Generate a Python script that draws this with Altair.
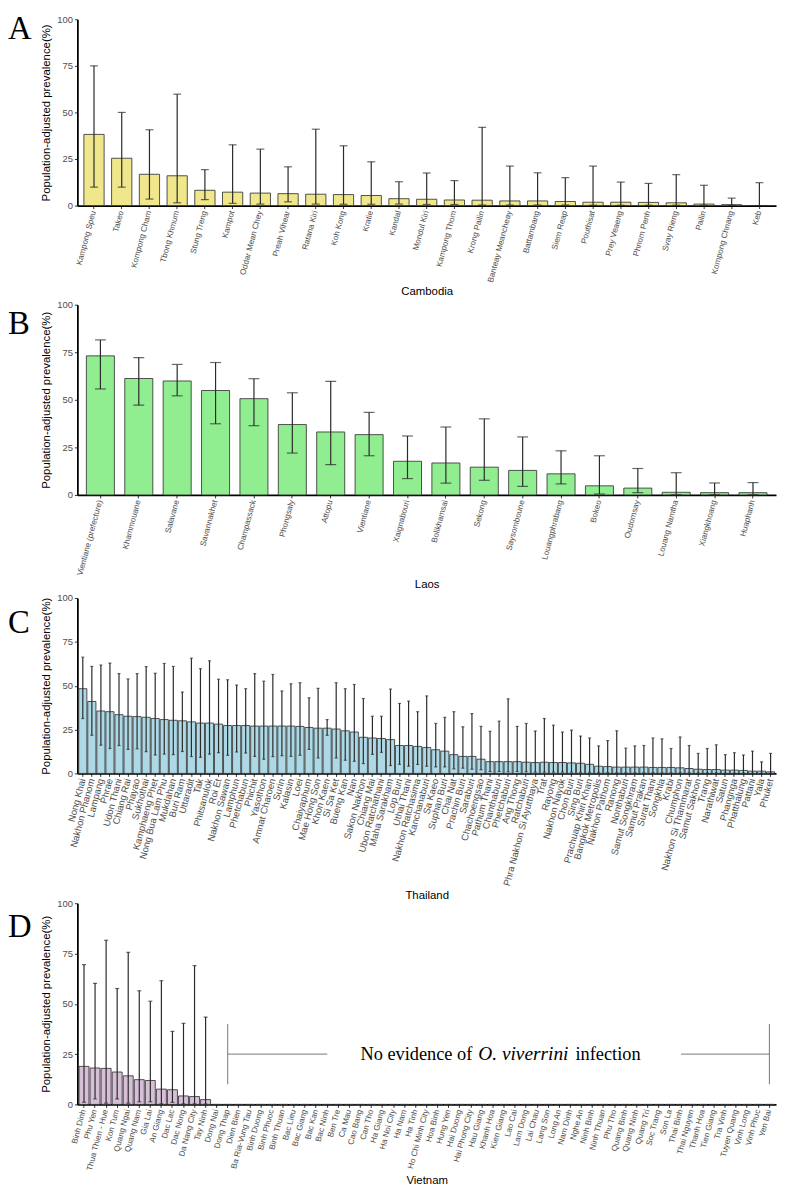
import altair as alt
import pandas as pd
import numpy as np

# ---------------- Cambodia ----------------
kh_names = ["Kampong Speu", "Takeo", "Kompong Cham", "Tbong Khmum", "Stung Treng", "Kampot",
            "Oddar Mean Chey", "Preah Vihear", "Ratana Kiri", "Koh Kong", "Kratie", "Kandal",
            "Mondul Kiri", "Kampong Thom", "Krong Pailin", "Banteay Meancheay", "Battambang",
            "Siem Reap", "Pouthisat", "Prey Veaeng", "Phnom Penh", "Svay Rieng", "Pailin",
            "Kompong Chnang", "Keb"]
kh_mean = [38.2, 25.4, 16.8, 16.0, 8.2, 7.2, 6.7, 6.4, 6.1, 5.9, 5.4, 3.7,
           3.4, 3.0, 2.9, 2.5, 2.5, 2.2, 1.8, 1.8, 1.7, 1.5, 0.8, 0.5, 0.0]
kh_low = [9.9, 9.9, 3.5, 1.5, 3.2, 1.2, 0.8, 2.0, 0.8, 0.7, 0.7, 0.8,
          0.6, 0.6, 0.3, 0.3, 0.3, 0.3, 0.2, 0.2, 0.2, 0.2, 0.2, 0.1, 0.0]
kh_high = [75.0, 50.0, 40.7, 59.8, 19.3, 32.6, 30.3, 20.8, 41.0, 32.1, 23.5, 12.8,
           17.5, 13.4, 42.0, 21.2, 17.6, 15.0, 21.2, 12.6, 11.9, 16.6, 10.9, 4.0, 12.3]

# ---------------- Laos ----------------
la_names = ["Vientiane (prefecture)", "Khammouane", "Salavane", "Savannakhet", "Champassack",
            "Phongsaly", "Attopu", "Vientiane", "Xaignabouri", "Bolikhamsai", "Sekong",
            "Saysomboune", "Louangphrabang", "Bokeo", "Oudomsay", "Louang Namtha",
            "Xiangkhoang", "Huaphanh"]
la_mean = [73.1, 61.2, 59.9, 54.9, 50.6, 37.0, 33.1, 31.7, 17.7, 16.8, 14.6,
           12.9, 11.1, 4.8, 3.6, 1.4, 1.2, 1.2]
la_low = [55.7, 47.2, 52.1, 37.4, 36.4, 22.0, 15.9, 20.6, 8.6, 6.2, 7.7,
          4.5, 5.8, 0.5, 1.2, 0.1, 0.1, 0.1]
la_high = [81.5, 72.2, 68.6, 69.6, 61.1, 53.7, 59.7, 43.4, 31.0, 35.7, 40.0,
           30.5, 23.2, 20.6, 13.9, 11.7, 6.3, 6.5]

# ---------------- Thailand ----------------
th_names = ["Nong Khai", "Nakhon Phanom", "Lampang", "Phrae", "Udon Thani", "Chiang Rai",
            "Phayao", "Sukhothai", "Kamphaeng Phet", "Nong Bua Lam Phu", "Mukdahan",
            "Buri Ram", "Uttaradit", "Tak", "Phitsanulok", "Roi Et", "Nakhon Sawan",
            "Lamphun", "Phetchabun", "Phichit", "Yasothon", "Amnat Charoen", "Surin",
            "Kalasin", "Loei", "Chaiyaphum", "Mae Hong Son", "Khon Kaen", "Si Sa Ket",
            "Bueng Kan", "Nan", "Sakon Nakhon", "Chiang Mai", "Ubon Ratchathani",
            "Maha Sarakham", "Lop Buri", "Uthai Thani", "Nakhon Ratchasima", "Kanchanaburi",
            "Sa Kaeo", "Suphan Buri", "Chai Nat", "Prachin Buri", "Saraburi", "Chachoengsao",
            "Pathum Thani", "Chanthaburi", "Phetchaburi", "Ang Thong", "Ratchaburi",
            "Phra Nakhon Si Ayutthaya", "Trat", "Rayong", "Nakhon Nayok", "Chon Buri",
            "Sing Buri", "Prachuap Khiri Khan", "Bangkok Metropolis", "Nakhon Pathom",
            "Ranong", "Nonthaburi", "Samut Songkhram", "Samut Prakan", "Surat Thani",
            "Songkhla", "Krabi", "Chumphon", "Nakhon Si Thammarat", "Samut Sakhon", "Trang",
            "Narathiwat", "Satun", "Phangnga", "Phatthalung", "Pattani", "Yala", "Phuket"]
th_mean = [48.3, 41.0, 35.6, 35.2, 33.5, 32.6, 32.4, 32.0, 31.3, 30.7, 30.3,
           30.0, 29.4, 28.7, 28.7, 28.1, 27.3, 27.3, 27.3, 27.0, 27.0, 27.0, 27.0,
           27.0, 26.8, 26.2, 25.8, 25.8, 25.3, 24.3, 23.6, 20.6, 20.2, 19.9,
           19.3, 15.9, 15.9, 15.4, 14.8, 13.5, 12.7, 10.7, 9.7, 9.7, 8.1,
           6.7, 6.7, 6.7, 6.7, 6.4, 6.2, 6.4, 6.2, 6.2, 6.0,
           5.8, 5.2, 4.1, 3.9, 3.6, 3.6, 3.6, 3.6, 3.4,
           3.4, 3.4, 3.2, 2.8, 2.4, 2.2, 2.2, 1.9, 1.9, 1.7, 1.3, 1.3, 0.9]
th_low = [31.3, 21.7, 16.1, 14.2, 15.9, 13.7, 14.0, 12.4, 10.5, 11.0, 10.7,
          12.5, 9.6, 9.2, 11.0, 11.8, 10.3, 12.2, 11.6, 9.7, 8.1, 9.6, 10.1,
          9.7, 10.3, 13.7, 8.8, 21.7, 8.8, 7.5, 6.9, 5.6, 10.9, 12.0,
          4.5, 5.2, 4.1, 5.1, 4.1, 3.7, 3.7, 2.6, 3.0, 2.4, 2.1,
          1.1, 1.1, 0.9, 1.1, 0.9, 0.7, 0.7, 0.7, 0.7, 0.7,
          0.6, 0.6, 0.5, 0.5, 0.4, 0.4, 0.4, 0.4, 0.4,
          0.4, 0.4, 0.4, 0.3, 0.3, 0.3, 0.3, 0.2, 0.2, 0.2, 0.1, 0.1, 0.1]
th_high = [66.3, 61.0, 61.8, 62.9, 56.9, 53.9, 56.9, 60.9, 57.1, 62.7, 61.0,
           46.4, 65.7, 59.7, 64.2, 53.7, 53.4, 50.4, 48.3, 56.9, 52.6, 56.4, 47.0,
           51.1, 51.7, 43.1, 48.5, 30.7, 51.7, 48.3, 50.7, 42.7, 32.6, 32.6,
           48.1, 39.9, 41.2, 35.2, 44.2, 28.5, 32.0, 35.2, 26.6, 34.1, 26.8,
           24.0, 29.8, 42.5, 26.8, 28.5, 24.2, 31.3, 27.5, 23.6, 24.7,
           21.3, 20.2, 15.7, 18.7, 24.3, 14.4, 15.7, 15.9, 20.2,
           19.7, 14.2, 20.8, 15.9, 11.4, 14.2, 16.3, 10.7, 11.8, 10.5, 12.7, 6.6, 11.4]

# ---------------- Vietnam ----------------
vn_names = ["Binh Dinh", "Phu Yen", "Thua Thien - Hue", "Kon Tum", "Quang Ngai", "Quang Nam",
            "Gia Lai", "An Giang", "Dac Lac", "Dac Nong", "Da Nang City", "Tay Ninh",
            "Dong Nai", "Dong Thap", "Dien Bien", "Ba Ria-Vung Tau", "Binh Duong",
            "Binh Phuoc", "Binh Thuan", "Bac Lieu", "Bac Giang", "Bac Kan", "Bac Ninh",
            "Ben Tre", "Ca Mau", "Cao Bang", "Can Tho", "Ha Giang", "Ha Noi City", "Ha Nam",
            "Ha Tinh", "Ho Chi Minh City", "Hoa Binh", "Hung Yen", "Hai Duong",
            "Hai Phong City", "Hau Giang", "Khanh Hoa", "Kien Giang", "Lao Cai", "Lam Dong",
            "Lai Chau", "Lang Son", "Long An", "Nam Dinh", "Nghe An", "Ninh Binh",
            "Ninh Thuan", "Phu Tho", "Quang Binh", "Quang Ninh", "Quang Tri", "Soc Trang",
            "Son La", "Thai Binh", "Thai Nguyen", "Thanh Hoa", "Tien Giang", "Tra Vinh",
            "Tuyen Quang", "Vinh Long", "Vinh Phuc", "Yen Bai"]
vn_mean_known = [18.9, 18.1, 17.9, 16.1, 14.2, 12.3, 11.9, 7.6, 7.3, 4.2, 3.9, 2.4]
vn_low_known = [1.1, 2.7, 0.6, 2.7, 0.6, 1.3, 1.3, 0.3, 1.0, 0.3, 0.3, 0.2]
vn_high_known = [69.5, 60.2, 81.6, 57.6, 75.6, 56.5, 51.3, 61.5, 36.3, 40.3, 69.0, 43.4]
n_none = len(vn_names) - len(vn_mean_known)
vn_mean = vn_mean_known + [0.0] * n_none
vn_low = vn_low_known + [np.nan] * n_none
vn_high = vn_high_known + [np.nan] * n_none

# annotation for Vietnam (bracket + text)
note_left = "No evidence of"
note_italic = "O. viverrini"
note_right = "infection"
bracket_v = [("Dong Thap", 10, 40), ("Yen Bai", 10, 40)]
bracket_h_seg = ["left", "left", "right", "right"]
bracket_h_prov = ["Dong Thap", "Bac Ninh", "Thai Binh", "Yen Bai"]
bracket_h_y = [25, 25, 25, 25]
note_anchor = ("Kien Giang", 25)

YTITLE = "Population-adjusted prevalence(%)"
LABEL_FONT = "Liberation Sans"


def panel(names, mean, low, high, color, country, letter, letter_y, height,
          pad_inner, pad_outer, cap, label_size, note=False):
    df = pd.DataFrame({"province": names, "mean": mean, "low": low, "high": high})
    xscale = alt.Scale(paddingInner=pad_inner, paddingOuter=pad_outer)
    xenc = alt.X("province:N", sort=names, scale=xscale,
                 axis=alt.Axis(title=country, labelAngle=-75, labelAlign="right",
                               labelBaseline="middle", labelOverlap=False,
                               labelFontSize=label_size, labelPadding=2, titlePadding=3))
    xplain = alt.X("province:N", sort=names)
    yenc = alt.Y("mean:Q", scale=alt.Scale(domain=[0, 100], nice=False),
                 axis=alt.Axis(values=[0, 25, 50, 75, 100], title=YTITLE))
    base = alt.Chart(df)
    bars = base.mark_bar(color=color, stroke="#333333", strokeWidth=1,
                         strokeOpacity=0.85).encode(x=xenc, y=yenc)
    valid = base.transform_filter("isValid(datum.high)")
    err = valid.mark_rule(color="#2a2a2a", strokeWidth=1.2).encode(
        x=xplain, y="low:Q", y2="high:Q")
    cap_hi = valid.mark_tick(size=cap, thickness=1.2, color="#2a2a2a").encode(
        x=xplain, y="high:Q")
    cap_lo = valid.mark_tick(size=cap, thickness=1.2, color="#2a2a2a").encode(
        x=xplain, y="low:Q")
    lab = alt.Chart(pd.DataFrame({"t": [letter]})).mark_text(
        font="Liberation Serif", fontSize=33, align="left", baseline="alphabetic"
    ).encode(text="t:N", x=alt.value(-70), y=alt.value(letter_y))
    layers = [bars, err, cap_hi, cap_lo, lab]
    if note:
        vdf = pd.DataFrame(bracket_v, columns=["province", "y1", "y2"])
        hdf = pd.DataFrame({"seg": bracket_h_seg, "province": bracket_h_prov,
                            "y": bracket_h_y})
        vr = alt.Chart(vdf).mark_rule(color="#777777", strokeWidth=1).encode(
            x=xplain, y="y1:Q", y2="y2:Q")
        hr = alt.Chart(hdf).mark_line(color="#777777", strokeWidth=1).encode(
            x=xplain, y="y:Q", detail="seg:N")
        tdf = pd.DataFrame({"province": [note_anchor[0]], "y": [note_anchor[1]],
                            "a": [note_left], "b": [note_italic], "c": [note_right]})
        tb = alt.Chart(tdf)
        t1 = tb.mark_text(font="Liberation Serif", fontSize=18.5, align="right",
                          baseline="middle", dx=-32, color="black").encode(
            x=xplain, y="y:Q", text="a:N")
        t2 = tb.mark_text(font="Liberation Serif", fontSize=19.5, fontStyle="italic",
                          align="left", baseline="middle", dx=-26, color="black").encode(
            x=xplain, y="y:Q", text="b:N")
        t3 = tb.mark_text(font="Liberation Serif", fontSize=18.5, align="left",
                          baseline="middle", dx=72, color="black").encode(
            x=xplain, y="y:Q", text="c:N")
        layers += [vr, hr, t1, t2, t3]
    return alt.layer(*layers).properties(width=705, height=height)


pA = panel(kh_names, kh_mean, kh_low, kh_high, "#F0E68C", "Cambodia", "A", 20, 188, 0.27, 0.235, 8, 8.2)
pB = panel(la_names, la_mean, la_low, la_high, "#90EE90", "Laos", "B", 30, 192, 0.27, 0.235, 11, 8.2)
pC = panel(th_names, th_mean, th_low, th_high, "#ADD8E6", "Thailand", "C", 35, 177, 0.1, 0.15, 3, 9.6)
pD = panel(vn_names, vn_mean, vn_low, vn_high, "#D8BFD8", "Vietnam", "D", 34, 203, 0.1, 0.15, 4, 8.2, note=True)

chart = alt.vconcat(alt.vconcat(pA, pB, pC, spacing=2), pD, spacing=-4).properties(
    padding={"left": 0, "top": 0, "right": 2, "bottom": 0}
).configure_view(stroke=None).configure_axis(
    grid=False, domainColor="black", domainWidth=1.8, tickColor="#333333",
    tickSize=3, labelColor="#4D4D4D", labelFont=LABEL_FONT, titleFont=LABEL_FONT,
    titleColor="black", titleFontWeight="normal", titleFontSize=11.5,
).configure_axisY(labelFontSize=9.5, titlePadding=5, labelPadding=2)

chart.save("out.html", embed_options={"renderer": "svg", "actions": False})
